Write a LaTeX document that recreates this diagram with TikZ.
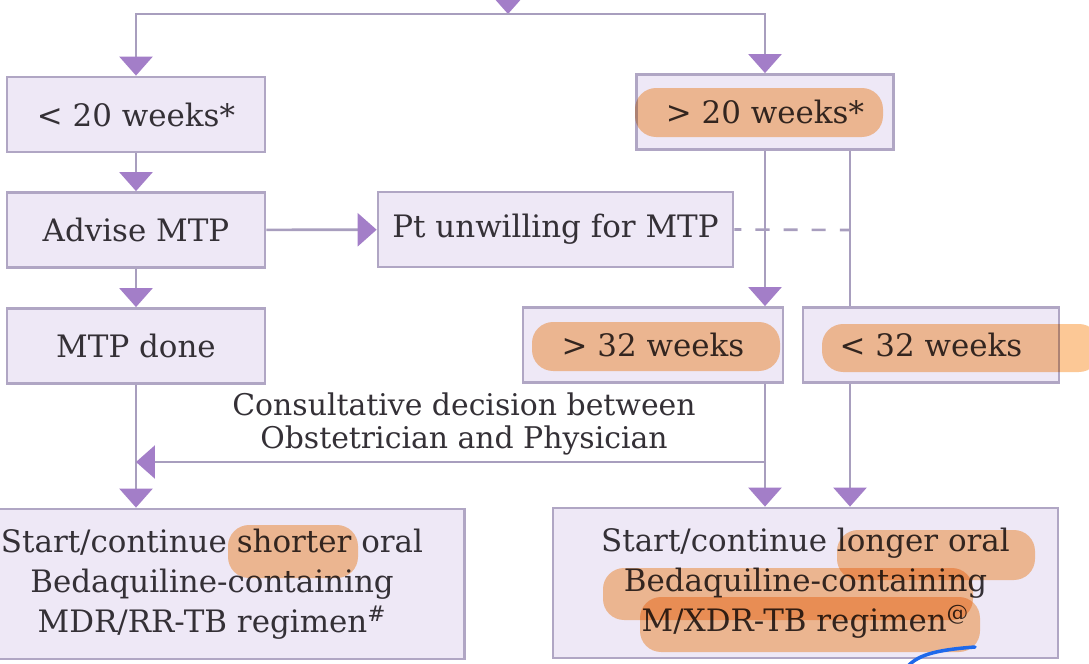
\documentclass[tikz,border=0pt]{standalone}
\usepackage{fontspec}
\setmainfont{DejaVu Serif}
\usetikzlibrary{arrows.meta}
\definecolor{boxfill}{RGB}{238,232,246}
\definecolor{boxline}{RGB}{176,166,196}
\definecolor{linkc}{RGB}{168,158,190}
\definecolor{tipc}{RGB}{163,126,200}
\definecolor{inkc}{RGB}{52,48,54}
\definecolor{hlc}{RGB}{252,200,150}
\definecolor{penc}{RGB}{30,105,235}

\begin{document}
\begin{tikzpicture}[x=0.02cm, y=-0.02cm,
		box/.style={draw=boxline, line width=1.6pt, fill=boxfill, text=inkc, inner sep=0pt,
			minimum height=1.5cm, align=center, font=\fontsize{17.6}{22.8}\selectfont},
		bigbox/.style={box, minimum width=10.1cm, minimum height=3cm},
		link/.style={draw=linkc, line width=1.5pt},
		conn/.style={link, -{Triangle[width=0.66cm, length=0.38cm, color=tipc]}},
		hl/.style={fill=hlc, rounded corners=12pt, blend mode=multiply}]
		%%%%% START %%%%%
		
		\useasboundingbox (0, 0) rectangle (1089, 663);
		\fill[white] (0, 0) rectangle (1089, 663);
		
		\node[box, minimum width=5.16cm] (lt20) at (136, 114.5) {< 20 weeks*};
		\node[box, minimum width=5.14cm] (gt20) at (765, 112) {> 20 weeks*};
		\node[box, minimum width=5.16cm] (advise) at (136, 230) {Advise MTP};
		\node[box, minimum width=7.1cm] (unwilling) at (555.5, 229.5) {Pt unwilling for MTP};
		\node[box, minimum width=5.16cm] (done) at (136, 346) {MTP done};
		\node[box, minimum width=5.2cm] (gt32) at (653, 345) {> 32 weeks};
		\node[box, minimum width=5.12cm] (lt32) at (931, 345) {< 32 weeks};
		\node[bigbox] (shorter) at (212, 584) {Start/continue shorter oral\\Bedaquiline-containing\\MDR/RR-TB regimen\textsuperscript{\#}};
		\node[bigbox] (longer) at (805.5, 583) {Start/continue longer oral\\Bedaquiline-containing\\M/XDR-TB regimen\textsuperscript{@}};
		
		\node[text=inkc, align=center, inner sep=0pt, font=\fontsize{17}{18.8}\selectfont] (decide) at (464, 424)
			{Consultative decision between\\Obstetrician and Physician};
		
		\coordinate (above) at (508, -20);
		\coordinate (split) at (508, 14);
		\coordinate (rx) at (850, 230);
		\coordinate (join) at (766, 462);
		
		\draw[conn] (above) -- (split);
		\draw[conn] (split) -| (lt20.north);
		\draw[conn] (split) -| (gt20.north);
		\draw[conn] (lt20) -- (advise);
		\draw[conn] (advise) -- (unwilling);
		\draw[conn] (advise) -- (done);
		\draw[link, dash pattern=on 8pt off 8pt, dash phase=4pt] (unwilling.east) -- (rx);
		\draw[conn] (gt20.south) -- (gt20.south |- gt32.north);
		\draw[link] (gt20.south -| rx) -- (lt32.north -| rx);
		\draw[conn] (done.south) -- (done.south |- shorter.north);
		\draw[conn] (join) -- (join -| done.south);
		\draw[conn] (gt20.south |- gt32.south) -- (gt20.south |- longer.north);
		\draw[conn] (lt32.south -| rx) -- (longer.north -| rx);
		
		% marker strokes
		\fill[hl] (635, 88) rectangle (883, 137);
		\fill[hl] (532, 322) rectangle (780, 371);
		\fill[hl] (822, 324) rectangle (1100, 372);
		\fill[hl] (228, 525) rectangle (358, 578);
		\fill[hl] (837, 530) rectangle (1035, 580);
		\fill[hl] (603, 568) rectangle (973, 620);
		\fill[hl] (640, 597) rectangle (980, 652);
		\draw[penc, line width=2pt, line cap=round] (905, 670) .. controls (915, 655) and (935, 650) .. (975, 647);
		
		%%%%% END %%%%%
	\end{tikzpicture}
\end{document}
